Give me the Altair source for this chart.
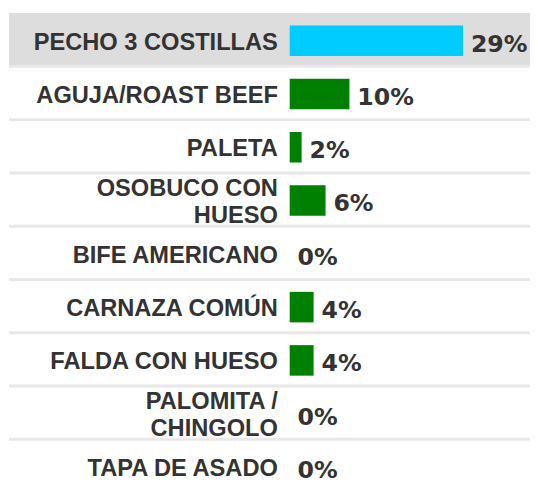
import altair as alt
import pandas as pd

categories = ["PECHO 3 COSTILLAS", "AGUJA/ROAST BEEF", "PALETA", "OSOBUCO CON HUESO",
              "BIFE AMERICANO", "CARNAZA COMÚN", "FALDA CON HUESO", "PALOMITA / CHINGOLO",
              "TAPA DE ASADO"]
label_lines = [["PECHO 3 COSTILLAS"], ["AGUJA/ROAST BEEF"], ["PALETA"], ["OSOBUCO CON", "HUESO"],
               ["BIFE AMERICANO"], ["CARNAZA COMÚN"], ["FALDA CON HUESO"], ["PALOMITA /", "CHINGOLO"],
               ["TAPA DE ASADO"]]
values = [29, 10, 2, 6, 0, 4, 4, 0, 0]
highlight = [True, False, False, False, False, False, False, False, False]

df = pd.DataFrame({
    "cat": categories,
    "lines": label_lines,
    "nlines": [len(l) for l in label_lines],
    "val": values,
    "hl": highlight,
    "txt": [f"{v}%" for v in values],
})

yscale = alt.Scale(domain=categories, range=[1.5, 488.4], paddingInner=0, paddingOuter=0)
xscale = alt.Scale(domain=[0, 29], range=[286, 462], nice=False, zero=True)

def Y(**kw):
    return alt.Y("cat:N", sort=categories, scale=yscale, axis=None, **kw)

base = alt.Chart(df)

bg = base.transform_filter("datum.hl").mark_rect(color="#DDDDDD").encode(
    y=Y(), x=alt.value(1), x2=alt.value(530))

seps = base.mark_rule(color="#E8E8E8", strokeWidth=3).encode(
    y=Y(bandPosition=1), x=alt.value(1), x2=alt.value(530))

bars = base.mark_bar(size=31, yOffset=1).encode(
    y=Y(),
    x=alt.X("val:Q", scale=xscale, axis=None),
    color=alt.Color("hl:N", scale=alt.Scale(domain=[True, False], range=["#00CCFF", "#008000"]), legend=None),
)

vals = base.mark_text(align="left", baseline="middle", dx=8, dy=5, font="DejaVu Sans",
                      fontWeight="bold", fontSize=24, color="#333333").encode(
    y=Y(), x=alt.X("val:Q", scale=xscale, axis=None), text="txt:N")

label_style = dict(align="right", baseline="middle", font="Liberation Sans",
                   fontWeight="bold", fontSize=24, lineHeight=28, color="#333333")

labels1 = base.transform_filter("datum.nlines == 1").mark_text(dy=3, **label_style).encode(
    y=Y(), x=alt.value(274), text="lines:N")
labels2 = base.transform_filter("datum.nlines == 2").mark_text(dy=-11, **label_style).encode(
    y=Y(), x=alt.value(274), text="lines:N")

chart = alt.layer(bg, seps, bars, vals, labels1, labels2).properties(
    width=530, height=477, padding=0,
    autosize=alt.AutoSizeParams(type="none"),
).configure_view(stroke=None)

chart.save("out.html", embed_options={"renderer": "svg", "actions": False})
